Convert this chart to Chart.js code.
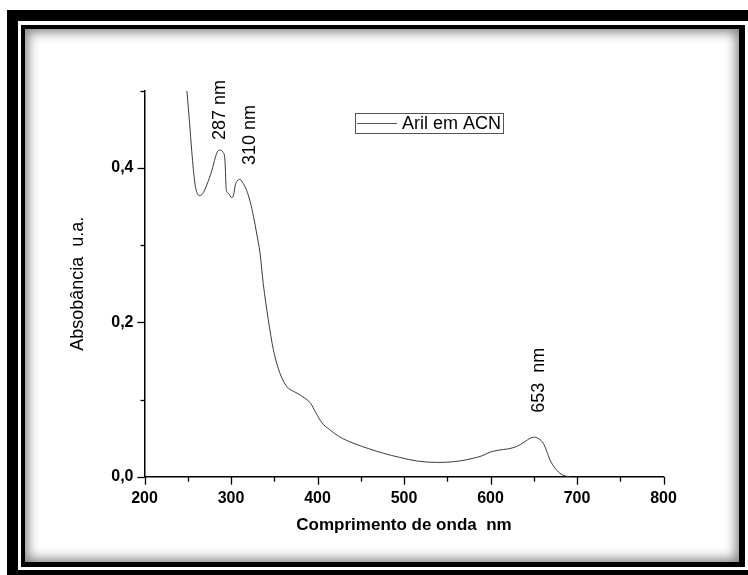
<!DOCTYPE html>
<html>
<head>
<meta charset="utf-8">
<script src="https://cdn.jsdelivr.net/npm/chart.js@4.4.0/dist/chart.umd.min.js"></script>
<style>
  html, body { margin: 0; padding: 0; background: #fff; }
  body { width: 748px; height: 575px; position: relative; overflow: hidden; }
  .frame-outer {
    position: absolute; left: 7px; top: 10px; width: 800px; height: 571px;
    box-sizing: border-box; border: 11px solid #000;
  }
  .frame-inner {
    position: absolute; left: 21px; top: 25px; width: 724px; height: 542px;
    box-sizing: border-box; background: #fff;
    border-style: solid; border-color: #000;
    border-width: 4px 6px 5px 4px;
    box-shadow: inset 0 0 12px 3px rgba(0, 0, 0, 0.5);
  }
  #chart { position: absolute; left: 0; top: 0; }
</style>
</head>
<body>
<div class="frame-outer"></div>
<div class="frame-inner"></div>
<canvas id="chart" width="748" height="575"></canvas>
<script>
// ***** data
const wavelengths = [
  249, 252, 254.6, 258.4, 261, 264, 268, 272, 277.7, 282, 285, 287.3, 291, 293,
  294.5, 297, 300.8, 303, 305, 307, 310.4, 314, 318, 322, 326, 330, 333.5, 337.3,
  343.1, 349, 356.6, 364.4, 375, 385, 392, 398, 405, 414, 425, 441.4, 460, 476,
  495, 514.7, 537.8, 550, 564.7, 580, 590, 600, 610, 620, 630, 640, 646, 651,
  656, 661, 665, 668.8, 674, 680.3, 686, 692
];
const absorbance = [
  0.500, 0.460, 0.422, 0.379, 0.367, 0.364, 0.368, 0.378, 0.396, 0.414, 0.422, 0.423, 0.420, 0.410,
  0.372, 0.367, 0.3615, 0.365, 0.378, 0.383, 0.385, 0.380, 0.371, 0.357, 0.337, 0.313, 0.290, 0.250,
  0.2035, 0.1645, 0.134, 0.117, 0.109, 0.102, 0.095, 0.083, 0.070, 0.061, 0.052, 0.0434, 0.036, 0.0304,
  0.025, 0.0204, 0.0185, 0.0188, 0.0204, 0.0239, 0.027, 0.032, 0.0345, 0.036, 0.039, 0.0455, 0.050, 0.0512,
  0.049, 0.0434, 0.033, 0.0217, 0.012, 0.0044, 0.001, 0.0
];
const seriesLabel = 'Aril em ACN';

const xTickValues = [200, 300, 400, 500, 600, 700, 800];
const xTickLabels = ['200', '300', '400', '500', '600', '700', '800'];
const yTickValues = [0, 0.2, 0.4];
const yTickLabels = ['0,0', '0,2', '0,4'];

const peakTexts = ['287 nm', '310 nm', '653  nm'];
const peakAt = [287, 322, 656.6];
const peakLevel = [0.475, 0.4425, 0.125];

// *****

function labelFor(values, labels, v) {
  const i = values.findIndex(e => Math.abs(e - v) < 1e-6);
  return i === -1 ? '' : labels[i];
}

const points = wavelengths.map((w, i) => ({ x: w, y: absorbance[i] }));

const decorations = {
  id: 'decorations',
  afterDraw(chart) {
    const { ctx, scales: { x, y } } = chart;
    ctx.save();
    ctx.strokeStyle = '#000';
    ctx.lineWidth = 1.3;

    // tick marks (major longer than minor)
    y.ticks.forEach(t => {
      const py = Math.round(y.getPixelForValue(t.value)) + 0.5;
      const len = labelFor(yTickValues, yTickLabels, t.value) ? 7 : 4;
      ctx.beginPath();
      ctx.moveTo(y.right - len, py);
      ctx.lineTo(y.right, py);
      ctx.stroke();
    });
    x.ticks.forEach(t => {
      const px = Math.round(x.getPixelForValue(t.value)) + 0.5;
      const len = labelFor(xTickValues, xTickLabels, t.value) ? 8 : 5;
      ctx.beginPath();
      ctx.moveTo(px, x.top);
      ctx.lineTo(px, x.top + len);
      ctx.stroke();
    });

    // rotated peak labels
    ctx.fillStyle = '#000';
    ctx.font = '18px Arial, "Liberation Sans", sans-serif';
    ctx.textAlign = 'center';
    ctx.textBaseline = 'middle';
    peakTexts.forEach((txt, i) => {
      ctx.save();
      ctx.translate(x.getPixelForValue(peakAt[i]), y.getPixelForValue(peakLevel[i]));
      ctx.rotate(-Math.PI / 2);
      ctx.fillText(txt, 0, 0);
      ctx.restore();
    });

    // legend box
    ctx.strokeStyle = '#555';
    ctx.lineWidth = 1;
    ctx.strokeRect(355.5, 113.5, 148, 20);
    ctx.beginPath();
    ctx.moveTo(357, 123.5);
    ctx.lineTo(397, 123.5);
    ctx.stroke();
    ctx.textAlign = 'left';
    ctx.fillText(chart.data.datasets[0].label, 402, 124);
    ctx.restore();
  },
};

const ctx = document.getElementById('chart').getContext('2d');

const chart = new Chart(ctx, {
  type: 'line',
  data: {
    datasets: [
      {
        label: seriesLabel,
        data: points,
        borderColor: '#3a3a3a',
        borderWidth: 1,
        pointRadius: 0,
        fill: false,
        cubicInterpolationMode: 'monotone',
      },
    ],
  },
  options: {
    responsive: false,
    animation: false,
    layout: {
      padding: { left: 67, right: 84.5, top: 90.7, bottom: 39.8 },
    },
    plugins: {
      legend: { display: false },
      tooltip: { enabled: false },
    },
    scales: {
      x: {
        type: 'linear',
        min: 200,
        max: 800,
        afterFit: scale => { scale.height = 58.5; },
        grid: { display: false, drawTicks: false },
        border: { display: true, color: '#000', width: 1.5 },
        ticks: {
          stepSize: 50,
          autoSkip: false,
          maxRotation: 0,
          padding: 12,
          color: '#000',
          font: { family: 'Arial, "Liberation Sans", sans-serif', size: 16, weight: 'bold' },
          callback: v => labelFor(xTickValues, xTickLabels, v),
        },
        title: {
          display: true,
          text: 'Comprimento de onda  nm',
          color: '#000',
          padding: 0,
          font: { family: 'Arial, "Liberation Sans", sans-serif', size: 17, weight: 'bold' },
        },
      },
      y: {
        min: 0,
        max: 0.5,
        afterFit: scale => { scale.width = 77.5; },
        grid: { display: false, drawTicks: false },
        border: { display: true, color: '#000', width: 1.5 },
        ticks: {
          stepSize: 0.1,
          autoSkip: false,
          padding: 11,
          color: '#000',
          font: { family: 'Arial, "Liberation Sans", sans-serif', size: 16, weight: 'bold' },
          callback: v => labelFor(yTickValues, yTickLabels, v),
        },
        title: {
          display: true,
          text: 'Absobância  u.a.',
          color: '#000',
          padding: 0,
          font: { family: 'Arial, "Liberation Sans", sans-serif', size: 18 },
        },
      },
    },
  },
  plugins: [decorations],
});
</script>
</body>
</html>
